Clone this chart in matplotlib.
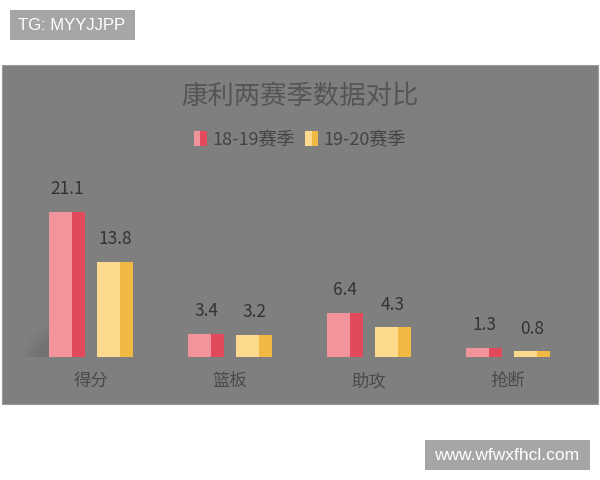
import numpy as np
import matplotlib.pyplot as plt
from matplotlib.patches import Rectangle, Patch, Polygon
from matplotlib.legend_handler import HandlerTuple

plt.rcParams['font.family'] = ['Noto Sans CJK SC', 'DejaVu Sans']

categories = ['得分', '篮板', '助攻', '抢断']
season1 = [21.1, 3.4, 6.4, 1.3]
season2 = [13.8, 3.2, 4.3, 0.8]
series_names = ['18-19赛季', '19-20赛季']

W, H = 600, 480
fig = plt.figure(figsize=(6, 4.8), dpi=100, facecolor='white')

def fx(px):
    return px / W

def fy(py):
    return 1 - py / H

# grey panel behind chart
fig.patches.append(Rectangle((fx(2), fy(404)), fx(596), 339 / H,
                             transform=fig.transFigure, facecolor='#7f7f7f',
                             edgecolor='#9a9a9a', linewidth=0.8, zorder=-5))

# axes placed in pixels: baseline at y=357, group spacing 139 px
ax = fig.add_axes([fx(2), fy(357), fx(596), (357 - 170) / H])
ax.set_facecolor('none')
ax.set_xlim(-89 / 139, 3 + 90 / 139)
ax.set_ylim(0, (357 - 170) / 6.88)
for s in ax.spines.values():
    s.set_visible(False)
ax.set_yticks([])
x = np.arange(len(categories))
ax.set_xticks(x)
ax.set_xticklabels(categories, fontsize=12.5, color='#4a4a4a')
ax.tick_params(axis='x', length=0, pad=11)

front_w = 23 / 139
side_w = 13 / 139
off = 24 / 139
styles = [('#f1949c', '#e2495b'), ('#fcd98c', '#f1b944')]

for vals, sign, (fc, sc) in [(season1, -1, styles[0]), (season2, 1, styles[1])]:
    centers = x + sign * off
    left = centers - (front_w + side_w) / 2
    ax.bar(left, vals, width=front_w, align='edge', color=fc, linewidth=0, zorder=3)
    ax.bar(left + front_w, vals, width=side_w, align='edge', color=sc, linewidth=0, zorder=3)
    for c, v in zip(centers, vals):
        ax.annotate(f'{v}', (c, v), xytext=(0, 10), textcoords='offset points',
                    ha='center', va='bottom', fontsize=12.5, color='#333333')

# soft shadow behind the tallest bar
for k in range(5):
    d = k * 0.025
    ax.add_patch(Polygon([(-0.5 + d, 0), (-0.3, 0), (-0.3, 5.0 - k * 0.6),
                          (-0.45 + d, 2.5 - k * 0.3)],
                         closed=True, facecolor='#5a5a5a', alpha=0.07,
                         linewidth=0, zorder=2))

# title
fig.text(0.5, fy(96), '康利两赛季数据对比', ha='center', va='center',
         fontsize=19, color='#555555')

handles = [(Patch(facecolor=styles[0][0]), Patch(facecolor=styles[0][1])),
           (Patch(facecolor=styles[1][0]), Patch(facecolor=styles[1][1]))]
fig.legend(handles, series_names, loc='center', bbox_to_anchor=(0.5, fy(140)),
           ncol=2, frameon=False, fontsize=13, labelcolor='#444444',
           handler_map={tuple: HandlerTuple(ndivide=None, pad=0)},
           handlelength=0.7, handleheight=0.9, handletextpad=0.3,
           columnspacing=0.6)

# watermarks
fig.patches.append(Rectangle((fx(10), fy(40)), fx(125), 30 / H,
                             transform=fig.transFigure, facecolor='#a6a6a6',
                             linewidth=0, zorder=-5))
fig.text(fx(72), fy(25), 'TG: MYYJJPP', ha='center', va='center',
         fontsize=12, color='white', family=['Liberation Sans'])
fig.patches.append(Rectangle((fx(425), fy(470)), fx(165), 30 / H,
                             transform=fig.transFigure, facecolor='#a6a6a6',
                             linewidth=0, zorder=-5))
fig.text(fx(507), fy(455), 'www.wfwxfhcl.com', ha='center', va='center',
         fontsize=12.5, color='white', family=['Liberation Sans'])

fig.savefig('out.png', dpi=100, facecolor='white')
